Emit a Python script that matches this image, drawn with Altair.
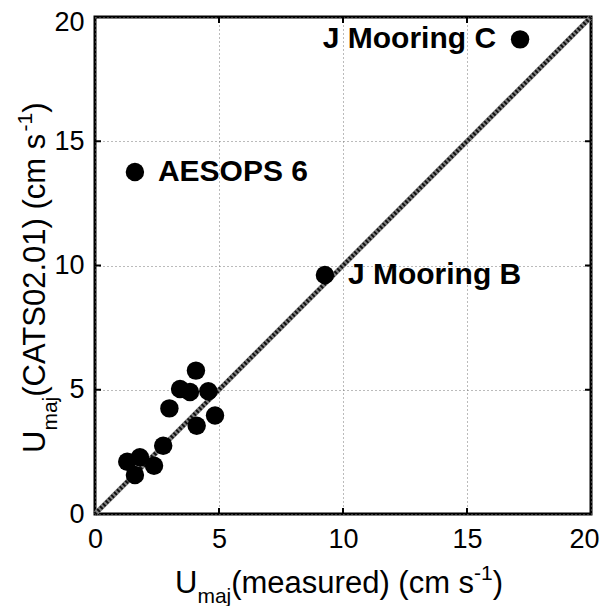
import altair as alt
import pandas as pd

# ---- data ----
meas = [1.30, 1.61, 1.81, 2.38, 2.75, 3.00, 3.43, 3.83, 4.07, 4.10, 4.57, 4.84, 1.61, 9.27, 17.14]
cats = [2.10, 1.57, 2.28, 1.94, 2.75, 4.25, 5.03, 4.91, 5.77, 3.55, 4.94, 3.96, 13.76, 9.62, 19.10]
lab_names_right = ["AESOPS 6", "J Mooring B"]
lab_x_right = [1.61, 9.27]
lab_y_right = [13.76, 9.62]
lab_names_left = ["J Mooring C"]
lab_x_left = [17.14]
lab_y_left = [19.10]
tick_values = [0, 5, 10, 15, 20]
inner_ticks = [5, 10, 15]
one_to_one = [0, 20]

W, H = 496, 497
FONT = "Liberation Sans"

# Arial / Liberation Sans advance widths (per 1000 em) for composing titles
AW = {' ': 278, '(': 333, ')': 333, 'm': 833, 'e': 556, 'a': 556, 's': 500, 'u': 556,
      'r': 333, 'd': 556, 'c': 500, 'j': 222, 'C': 722, 'A': 667, 'T': 611, 'S': 667,
      '.': 278, '-': 333, 'U': 722}


def tw(s, size):
    return sum(AW.get(ch, 556) for ch in s) * size / 1000.0


TF, SF = 31, 21

sx = alt.Scale(domain=[0, 20], nice=False, zero=False)
sy = alt.Scale(domain=[0, 20], nice=False, zero=False)
xax = alt.Axis(values=tick_values, title=None, labelFlush=False, labelPadding=12,
               labelOffset={"condition": {"test": "datum.value == 20", "value": -7}, "value": 0})
yax = alt.Axis(values=tick_values, title=None, labelFlush=False, labelPadding=11,
               labelOffset={"condition": {"test": "datum.value == 20", "value": 5}, "value": 0})
X = alt.X("x:Q", scale=sx, axis=xax)
Y = alt.Y("y:Q", scale=sy, axis=yax)

pts_df = pd.DataFrame({"x": meas, "y": cats})
line_df = pd.DataFrame({"x": one_to_one, "y": one_to_one})

diag_base = alt.Chart(line_df).mark_line(color="#808080", strokeWidth=5).encode(x=X, y=Y)
diag_dash = alt.Chart(line_df).mark_line(color="#111", strokeWidth=4, strokeDash=[2, 2]).encode(x=X, y=Y)
points = alt.Chart(pts_df).mark_circle(color="black", size=340, opacity=1).encode(x=X, y=Y)

lab_r = alt.Chart(pd.DataFrame({"x": lab_x_right, "y": lab_y_right, "t": lab_names_right})).mark_text(
    font=FONT, fontWeight="bold", fontSize=30, align="left", baseline="middle", dx=23, color="black"
).encode(x=X, y=Y, text="t:N")
lab_l = alt.Chart(pd.DataFrame({"x": lab_x_left, "y": lab_y_left, "t": lab_names_left})).mark_text(
    font=FONT, fontWeight="bold", fontSize=30, align="right", baseline="middle", dx=-24, color="black"
).encode(x=X, y=Y, text="t:N")

tick_df = pd.DataFrame({"x": inner_ticks, "y": inner_ticks})
tk = []
tk.append(alt.Chart(tick_df).mark_rule(color="black", strokeWidth=2).encode(x=X, y=alt.value(H), y2=alt.value(H - 6)))
tk.append(alt.Chart(tick_df).mark_rule(color="black", strokeWidth=2).encode(x=X, y=alt.value(0), y2=alt.value(6)))
tk.append(alt.Chart(tick_df).mark_rule(color="black", strokeWidth=2).encode(y=Y, x=alt.value(0), x2=alt.value(6)))
tk.append(alt.Chart(tick_df).mark_rule(color="black", strokeWidth=2).encode(y=Y, x=alt.value(W), x2=alt.value(W - 6)))


def piece(text, x, y, size, angle=0):
    kw = dict(font=FONT, fontSize=size, align="left", baseline="alphabetic", color="black")
    if angle:
        kw["angle"] = angle
    return alt.Chart(pd.DataFrame({"t": [text]})).mark_text(**kw).encode(
        x=alt.value(x), y=alt.value(y), text="t:N")


# x axis title: U_maj(measured) (cm s^-1)
x0, xb = 80, 576
xt = []
xt.append(piece("U", x0, xb, TF))
x1 = x0 + tw("U", TF)
xt.append(piece("maj", x1, xb + 10, SF))
x2 = x1 + tw("maj", SF)
main = "(measured) (cm s"
xt.append(piece(main, x2, xb, TF))
x3 = x2 + tw(main, TF)
xt.append(piece("-1", x3, xb - 13, SF))
x4 = x3 + tw("-1", SF)
xt.append(piece(")", x4, xb, TF))

# y axis title (rotated): U_maj(CATS02.01) (cm s^-1)
y0, yb = 436, -50
yt = []
yt.append(piece("U", yb, y0, TF, 270))
y1 = y0 - tw("U", TF)
yt.append(piece("maj", yb + 12, y1, SF, 270))
y2 = y1 - tw("maj", SF)
ymain = "(CATS02.01) (cm s"
yt.append(piece(ymain, yb, y2, TF, 270))
y3 = y2 - tw(ymain, TF)
yt.append(piece("-1", yb - 13, y3, SF, 270))
y4 = y3 - tw("-1", SF)
yt.append(piece(")", yb, y4, TF, 270))

chart = alt.layer(diag_base, diag_dash, points, lab_r, lab_l, *tk, *xt, *yt).properties(
    width=W, height=H,
    autosize=alt.AutoSizeParams(type="none"),
    padding={"left": 87, "top": 9, "right": 9, "bottom": 92},
    background="white",
).configure_view(stroke="black", strokeWidth=3).configure_axis(
    grid=True, gridDash=[1, 3], gridColor="#777", gridWidth=1, domain=False, ticks=False,
    labelFont=FONT, labelFontSize=27, labelColor="black"
)

chart.save("out.html", embed_options={"renderer": "svg", "actions": False})
